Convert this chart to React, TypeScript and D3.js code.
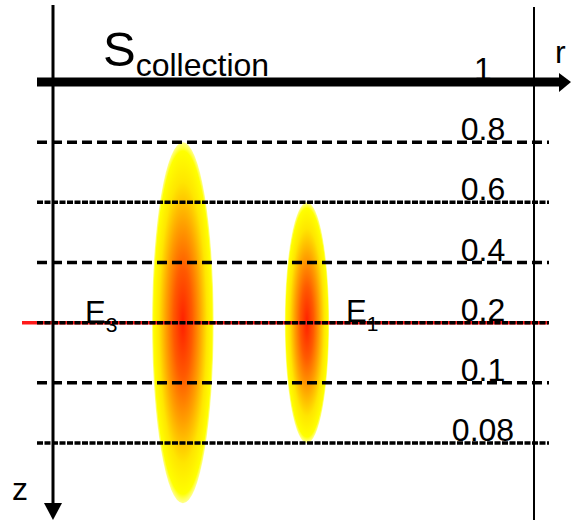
import React from "react";
import * as d3 from "d3";

// z levels (top = axis level "1")
const zLabels = ["1", "0.8", "0.6", "0.4", "0.2", "0.1", "0.08"];
// line style per level below the axis: "dash" or "rough"
const lineStyles = ["dash", "rough", "dash", "rough", "dash", "rough"];
// emitters
const emitterNames = ["E", "E"];
const emitterSubs = ["3", "1"];
const emitterR = [0.27, 0.528];
const emitterHalfWidth = [0.064, 0.046];
const emitterTop = ["0.8", "0.6"];
const emitterCenter = "0.2";

const W = 571;
const H = 520;

export default function App() {
  const z = d3.scalePoint<string>().domain(zLabels).range([82, 443]);
  const r = d3.scaleLinear().domain([0, 1]).range([53, 534]);
  const font = "'Liberation Sans', Arial, sans-serif";
  const levels = zLabels.slice(1);
  const cy = z(emitterCenter)!;

  return (
    <svg
      width={W}
      height={H}
      viewBox={`0 0 ${W} ${H}`}
      style={{ position: "absolute", left: 0, top: 0, background: "#fff" }}
      fontFamily={font}
    >
      <defs>
        <radialGradient id="glow" cx="0.5" cy="0.5" r="0.5">
          <stop offset="0" stopColor="#ff2000" />
          <stop offset="0.3" stopColor="#ff5a00" />
          <stop offset="0.55" stopColor="#ffa000" />
          <stop offset="0.78" stopColor="#ffe600" />
          <stop offset="0.95" stopColor="#ffff00" />
          <stop offset="1" stopColor="#ffff60" stopOpacity="0.7" />
        </radialGradient>
      </defs>

      {/* emitters */}
      {emitterNames.map((n, i) => {
        const top = z(emitterTop[i])!;
        const ry = cy - top;
        const cx = r(emitterR[i]);
        const rx = r(emitterHalfWidth[i]) - r(0);
        return (
          <ellipse key={i} cx={cx} cy={cy} rx={rx} ry={ry} fill="url(#glow)" />
        );
      })}

      {/* level lines */}
      {levels.map((lv, i) => {
        const y = z(lv)!;
        const isRed = lv === emitterCenter;
        return (
          <g key={lv}>
            {isRed && (
              <line x1={22} x2={548} y1={y} y2={y} stroke="#ff1a1a" strokeWidth={3.5} />
            )}
            <line
              x1={37}
              x2={549}
              y1={y}
              y2={y}
              stroke="#000"
              strokeWidth={3.5}
              strokeDasharray={lineStyles[i] === "dash" ? "10,5" : "6,1.5"}
            />
          </g>
        );
      })}

      {/* right thin line */}
      <line x1={534} x2={534} y1={7} y2={520} stroke="#000" strokeWidth={2} />

      {/* z axis */}
      <line x1={53} x2={53} y1={5} y2={506} stroke="#000" strokeWidth={3} />
      <polygon points={`44,503 62,503 53,520`} fill="#000" />

      {/* r axis */}
      <line x1={37} x2={562} y1={82} y2={82} stroke="#000" strokeWidth={9} />
      <polygon points={`559,73 559,92 571,82`} fill="#000" />

      {/* level labels */}
      {zLabels.map((lv) => (
        <text
          key={lv}
          x={483}
          y={z(lv)! - 2}
          textAnchor="middle"
          fontSize={32}
          fill="#000"
        >
          {lv}
        </text>
      ))}

      {/* emitter labels */}
      <text x={85} y={323} fontSize={31} fill="#000">
        {emitterNames[0]}
        <tspan fontSize={21} dy={9}>{emitterSubs[0]}</tspan>
      </text>
      <text x={346} y={322} fontSize={31} fill="#000">
        {emitterNames[1]}
        <tspan fontSize={21} dy={9}>{emitterSubs[1]}</tspan>
      </text>

      {/* title */}
      <text x={103} y={66} fontSize={49} fill="#000">
        S
        <tspan fontSize={32} dy={10}>collection</tspan>
      </text>

      {/* axis letters */}
      <text x={555} y={63} fontSize={32} fill="#000">r</text>
      <text x={12} y={500} fontSize={32} fill="#000">z</text>
    </svg>
  );
}
